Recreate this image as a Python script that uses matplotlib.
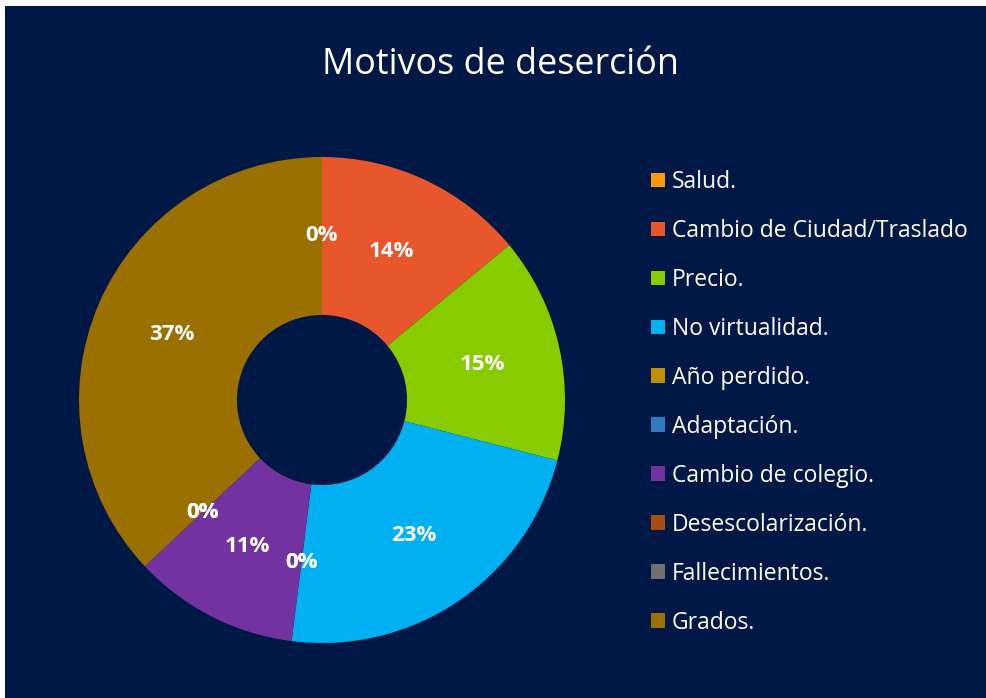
import matplotlib
matplotlib.use("Agg")
import matplotlib.pyplot as plt
from matplotlib.patches import Rectangle

categories = ["Salud.", "Cambio de Ciudad/Traslado", "Precio.", "No virtualidad.",
              "Año perdido.", "Adaptación.", "Cambio de colegio.",
              "Desescolarización.", "Fallecimientos.", "Grados."]
values = [0, 14, 15, 23, 0, 0, 11, 0, 0, 37]
colors = ["#FF9A00", "#E8562C", "#88CC00", "#00B0F0", "#BF8F00",
          "#2E7BC4", "#7232A0", "#A84C10", "#707070", "#9A7000"]
title = "Motivos de deserción"

BG = "#001845"
plt.rcParams['font.family'] = ['Open Sans', 'DejaVu Sans']

W, H = 986, 698
fig = plt.figure(figsize=(W / 100, H / 100), dpi=100, facecolor="white")
fig.patches.append(Rectangle((5 / W, 0), 1 - 5 / W, 1 - 6 / H, transform=fig.transFigure,
                             facecolor=BG, edgecolor="none", zorder=-5))

cx, cy, r = 322, 400, 243
ax = fig.add_axes([(cx - r) / W, (H - cy - r) / H, 2 * r / W, 2 * r / H])
ax.set_facecolor("none")
ax.set_zorder(2)
wedges, texts, autotexts = ax.pie(
    values, colors=colors, startangle=90, counterclock=False,
    autopct="%1.0f%%", pctdistance=0.675,
    wedgeprops=dict(width=0.65, edgecolor="none"),
    textprops=dict(color="white", fontsize=16, fontweight="bold"))
ax.set_xlim(-1, 1)
ax.set_ylim(-1, 1)
ax.set_aspect("equal")

fig.text(500 / W, 1 - 65 / H, title, ha="center", va="center", color="white", fontsize=25.8)

leg = fig.legend(wedges, categories, loc="upper left", bbox_to_anchor=(651 / W, 1 - 170 / H),
                 frameon=False, fontsize=16.5, labelcolor="white", handlelength=0.61,
                 handleheight=0.61, handletextpad=0.3, labelspacing=1.09, borderaxespad=0,
                 borderpad=0)
leg.set_zorder(3)
fig.savefig("out.png", dpi=100, facecolor=fig.get_facecolor())
